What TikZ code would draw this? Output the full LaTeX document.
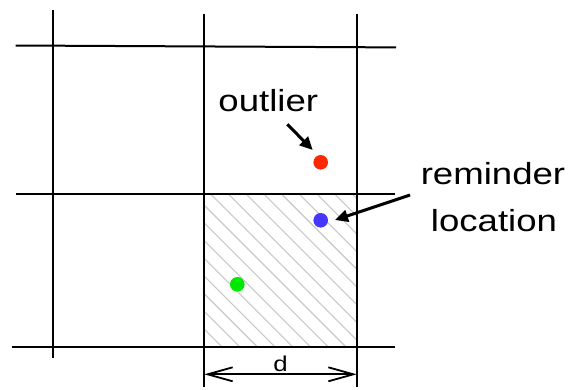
\documentclass[tikz,border=0pt]{standalone}
\usepackage{fontspec}
\usepackage{graphicx}
\setmainfont{Liberation Sans}
\usetikzlibrary{arrows.meta}
\definecolor{hatchgray}{RGB}{200,200,200}
\definecolor{dotred}{RGB}{255,40,0}
\definecolor{dotblue}{RGB}{70,55,255}
\definecolor{dotgreen}{RGB}{0,232,0}
\tikzset{
  gridline/.style={line width=2pt, black},
  hatchline/.style={line width=1.1pt, hatchgray},
  dot/.style={circle, inner sep=0pt, minimum size=14.6pt, draw=none},
  callout/.style={line width=3pt, -{Triangle[length=13pt,width=12pt]}},
  dimline/.style={line width=1.8pt, {Straight Barb[length=25pt,width=14pt,line width=1.8pt]}-{Straight Barb[length=25pt,width=14pt,line width=1.8pt]}},
  bigtext/.style={font=\fontsize{30.5}{36}\selectfont, inner sep=0pt},
  smalltext/.style={font=\fontsize{21.5}{24}\selectfont, inner sep=0pt}
}
\begin{document}
\begin{tikzpicture}[x=1pt,y=-1pt]
\useasboundingbox (0,0) rectangle (571,389);
% hatched cell
\begin{scope}
  \clip (204.3,194) rectangle (356.7,346.5);
  \foreach \k in {-10,...,10} {
    \draw[hatchline] (210.7+17.7*\k,194) -- ++(200,200);
  }
\end{scope}
% grid
\draw[gridline] (15.7,45.5) -- (396,47.4);
\draw[gridline] (15.7,194) -- (395,194);
\draw[gridline] (11.7,346.5) -- (395,346.5);
\draw[gridline] (52.7,10) -- (52.7,358);
\draw[gridline] (204.3,13.5) -- (204.3,387);
\draw[gridline] (356.7,13.5) -- (356.7,387);
% dots
\node[dot, fill=dotred] (red) at (320.7,162.3) {};
\node[dot, fill=dotblue] (blue) at (320.7,220.3) {};
\node[dot, fill=dotgreen] (green) at (237.3,284.3) {};
% labels
\node[bigtext, anchor=base] (outl) at (268.3,111.7) {\scalebox{1.2}[1]{outlier}};
\node[bigtext, anchor=base] (rem) at (493,184.3) {\scalebox{1.2}[1]{reminder}};
\node[bigtext, anchor=base] (loc) at (494,231.7) {\scalebox{1.2}[1]{location}};
% callouts
\coordinate (ostart) at (287.3,124.3);
\coordinate (otip) at (312.7,150);
\draw[callout] (ostart) -- (otip);
\coordinate (rstart) at (410,195);
\coordinate (rtip) at (335,220);
\draw[callout] (rstart) -- (rtip);
% dimension
\coordinate (dl) at (204.3,374.3);
\coordinate (dr) at (356.7,374.3);
\draw[dimline] (dl) -- (dr);
\node[smalltext, anchor=base] (dlab) at (280.5,371) {\scalebox{1.2}[1]{d}};
\end{tikzpicture}
\end{document}
